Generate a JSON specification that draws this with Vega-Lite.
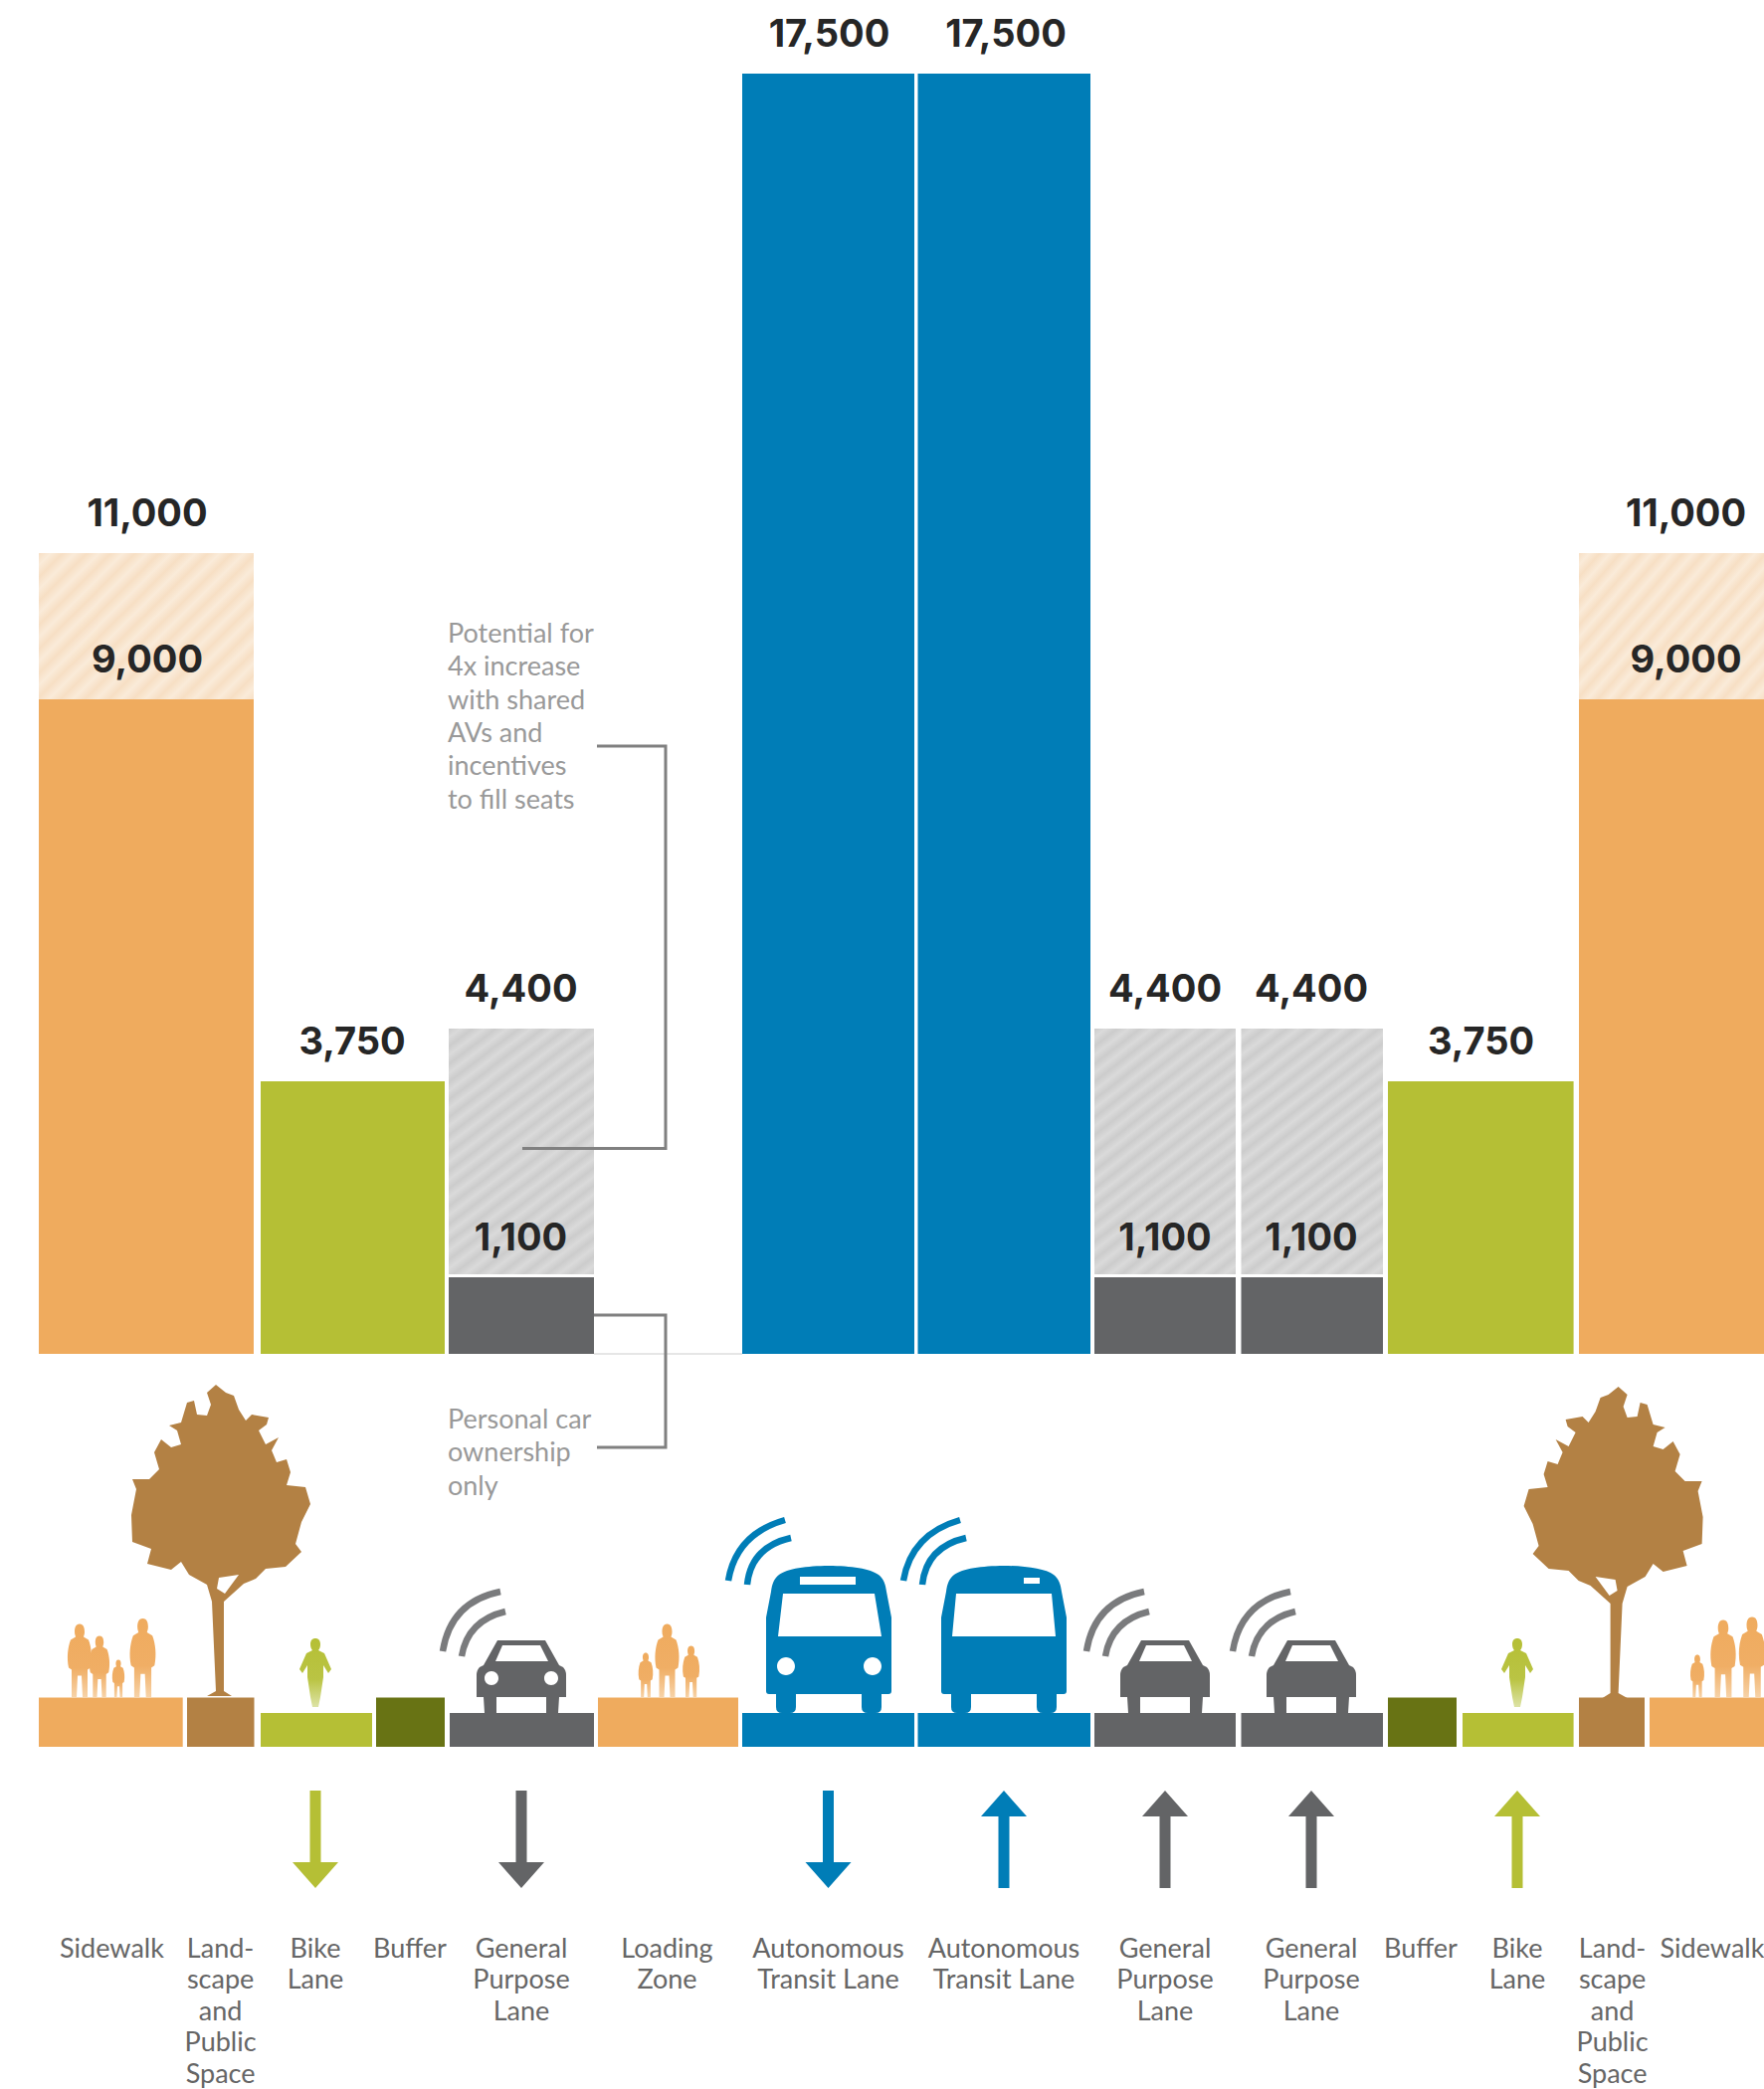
{
"$schema":"https://vega.github.io/schema/vega-lite/v6.json",
"width":1773,"height":2100,"autosize":{"type":"none"},"padding":0,"background":"white",
"config":{"view":{"stroke":null}},
"resolve":{"scale":{"y":"independent","shape":"independent","color":"independent"}},
"layer":[
{"data":{"values":[{"x0":59.7,"x1":74.6,"e":36.1}]},
 "mark":{"type":"rule","color":"#e6e6e6","strokeWidth":2},
 "encoding":{"x":{"field":"x0","type":"quantitative","axis":null,"scale":{"domain":[0,177.3],"nice":false,"zero":false}},"x2":{"field":"x1"},
 "y":{"field":"e","type":"quantitative","axis":null,"scale":{"domain":[172.2,-37.8],"range":[0,2100],"nice":false,"zero":false}}}},
{"data":{"values":[
 {"lane":"Sidewalk","kind":"sidewalk","x0":3.9,"x1":25.5,"cap":9000},
 {"lane":"Bike Lane","kind":"bike","x0":26.2,"x1":44.7,"cap":3750},
 {"lane":"General Purpose Lane","kind":"general","x0":45.1,"x1":59.7,"cap":1100},
 {"lane":"Autonomous Transit Lane","kind":"transit","x0":74.6,"x1":91.9,"cap":17500},
 {"lane":"Autonomous Transit Lane","kind":"transit","x0":92.25,"x1":109.6,"cap":17500},
 {"lane":"General Purpose Lane","kind":"general","x0":110,"x1":124.2,"cap":1100},
 {"lane":"General Purpose Lane","kind":"general","x0":124.75,"x1":139,"cap":1100},
 {"lane":"Bike Lane","kind":"bike","x0":139.5,"x1":158.16,"cap":3750},
 {"lane":"Sidewalk","kind":"sidewalk","x0":158.7,"x1":177.3,"cap":9000}
 ]},
 "mark":{"type":"rect"},
 "encoding":{"x":{"field":"x0","type":"quantitative","axis":null,"scale":{"domain":[0,177.3],"nice":false,"zero":false}},"x2":{"field":"x1"},
 "y":{"field":"cap","type":"quantitative","axis":null,"scale":{"domain":[0,1100,3750,4400,9000,11000,17500],"range":[1361,1284,1087,1034,703,556,74],"nice":false,"zero":false}},
 "y2":{"datum":0},
 "color":{"field":"kind","type":"nominal","legend":null,"scale":{"domain":["sidewalk","landscape","bike","buffer","general","transit"],"range":["#EFAB5E","#B38144","#B5BF35","#687314","#636466","#007DB7"]}}}},
{"data":{"values":[
 {"x0":45.1,"x1":59.7,"base":1100,"cap":4400},
 {"x0":110,"x1":124.2,"base":1100,"cap":4400},
 {"x0":124.75,"x1":139,"base":1100,"cap":4400}
 ]},
 "mark":{"type":"rect","fill":{"gradient":"linear","x1":0,"y1":0,"x2":0.5385,"y2":1.206,"stops":[
 {"offset":0,"color":"#cccccc"},{"offset":0.025,"color":"#dadada"},{"offset":0.05,"color":"#cccccc"},{"offset":0.075,"color":"#dadada"},{"offset":0.1,"color":"#cccccc"},{"offset":0.125,"color":"#dadada"},{"offset":0.15,"color":"#cccccc"},{"offset":0.175,"color":"#dadada"},{"offset":0.2,"color":"#cccccc"},{"offset":0.225,"color":"#dadada"},{"offset":0.25,"color":"#cccccc"},{"offset":0.275,"color":"#dadada"},{"offset":0.3,"color":"#cccccc"},{"offset":0.325,"color":"#dadada"},{"offset":0.35,"color":"#cccccc"},{"offset":0.375,"color":"#dadada"},{"offset":0.4,"color":"#cccccc"},{"offset":0.425,"color":"#dadada"},{"offset":0.45,"color":"#cccccc"},{"offset":0.475,"color":"#dadada"},{"offset":0.5,"color":"#cccccc"},{"offset":0.525,"color":"#dadada"},{"offset":0.55,"color":"#cccccc"},{"offset":0.575,"color":"#dadada"},{"offset":0.6,"color":"#cccccc"},{"offset":0.625,"color":"#dadada"},{"offset":0.65,"color":"#cccccc"},{"offset":0.675,"color":"#dadada"},{"offset":0.7,"color":"#cccccc"},{"offset":0.725,"color":"#dadada"},{"offset":0.75,"color":"#cccccc"},{"offset":0.775,"color":"#dadada"},{"offset":0.8,"color":"#cccccc"},{"offset":0.825,"color":"#dadada"},{"offset":0.85,"color":"#cccccc"},{"offset":0.875,"color":"#dadada"},{"offset":0.9,"color":"#cccccc"},{"offset":0.925,"color":"#dadada"},{"offset":0.95,"color":"#cccccc"},{"offset":0.975,"color":"#dadada"},{"offset":1,"color":"#cccccc"}]}},
 "encoding":{"x":{"field":"x0","type":"quantitative","axis":null,"scale":{"domain":[0,177.3],"nice":false,"zero":false}},"x2":{"field":"x1"},
 "y":{"field":"cap","type":"quantitative","axis":null,"scale":{"domain":[0,1100,3750,4400,9000,11000,17500],"range":[1361,1281,1087,1034,703,556,74],"nice":false,"zero":false}},
 "y2":{"field":"base"}}},
{"data":{"values":[
 {"x0":3.9,"x1":25.5,"base":9000,"cap":11000},
 {"x0":158.7,"x1":177.3,"base":9000,"cap":11000}
 ]},
 "mark":{"type":"rect","fill":{"gradient":"linear","x1":0,"y1":0,"x2":1.147,"y2":0.786,"stops":[
 {"offset":0,"color":"#f7dfc4"},{"offset":0.0333,"color":"#faebd9"},{"offset":0.0667,"color":"#f7dfc4"},{"offset":0.1,"color":"#faebd9"},{"offset":0.1333,"color":"#f7dfc4"},{"offset":0.1667,"color":"#faebd9"},{"offset":0.2,"color":"#f7dfc4"},{"offset":0.2333,"color":"#faebd9"},{"offset":0.2667,"color":"#f7dfc4"},{"offset":0.3,"color":"#faebd9"},{"offset":0.3333,"color":"#f7dfc4"},{"offset":0.3667,"color":"#faebd9"},{"offset":0.4,"color":"#f7dfc4"},{"offset":0.4333,"color":"#faebd9"},{"offset":0.4667,"color":"#f7dfc4"},{"offset":0.5,"color":"#faebd9"},{"offset":0.5333,"color":"#f7dfc4"},{"offset":0.5667,"color":"#faebd9"},{"offset":0.6,"color":"#f7dfc4"},{"offset":0.6333,"color":"#faebd9"},{"offset":0.6667,"color":"#f7dfc4"},{"offset":0.7,"color":"#faebd9"},{"offset":0.7333,"color":"#f7dfc4"},{"offset":0.7667,"color":"#faebd9"},{"offset":0.8,"color":"#f7dfc4"},{"offset":0.8333,"color":"#faebd9"},{"offset":0.8667,"color":"#f7dfc4"},{"offset":0.9,"color":"#faebd9"},{"offset":0.9333,"color":"#f7dfc4"},{"offset":0.9667,"color":"#faebd9"},{"offset":1,"color":"#f7dfc4"}]}},
 "encoding":{"x":{"field":"x0","type":"quantitative","axis":null,"scale":{"domain":[0,177.3],"nice":false,"zero":false}},"x2":{"field":"x1"},
 "y":{"field":"cap","type":"quantitative","axis":null,"scale":{"domain":[0,1100,3750,4400,9000,11000,17500],"range":[1361,1284,1087,1034,703,556,74],"nice":false,"zero":false}},
 "y2":{"field":"base"}}},
{"data":{"values":[
 {"leader":"a","step":1,"x":60,"e":97.2},{"leader":"a","step":2,"x":66.9,"e":97.2},{"leader":"a","step":3,"x":66.9,"e":56.75},{"leader":"a","step":4,"x":52.5,"e":56.75},
 {"leader":"b","step":1,"x":59.7,"e":40},{"leader":"b","step":2,"x":66.9,"e":40},{"leader":"b","step":3,"x":66.9,"e":26.7},{"leader":"b","step":4,"x":60,"e":26.7}
 ]},
 "mark":{"type":"line","color":"#808080","strokeWidth":3},
 "encoding":{"x":{"field":"x","type":"quantitative","axis":null,"scale":{"domain":[0,177.3],"nice":false,"zero":false}},
 "y":{"field":"e","type":"quantitative","axis":null,"scale":{"domain":[172.2,-37.8],"range":[0,2100],"nice":false,"zero":false}},
 "detail":{"field":"leader"},"order":{"field":"step","type":"quantitative"}}},
{"data":{"values":[
 {"x":14.8,"v":11000},{"x":14.8,"v":9000},{"x":35.4,"v":3750},{"x":52.35,"v":4400},{"x":52.35,"v":1100},
 {"x":83.35,"v":17500},{"x":101.1,"v":17500},{"x":117.1,"v":4400},{"x":117.1,"v":1100},{"x":131.8,"v":4400},{"x":131.8,"v":1100},
 {"x":148.85,"v":3750},{"x":169.45,"v":11000},{"x":169.45,"v":9000}
 ]},
 "mark":{"type":"text","font":"Inter","fontWeight":"bold","fontSize":38,"color":"#262626","baseline":"middle","align":"center","dy":-38},
 "encoding":{"x":{"field":"x","type":"quantitative","axis":null,"scale":{"domain":[0,177.3],"nice":false,"zero":false}},
 "y":{"field":"v","type":"quantitative","axis":null,"scale":{"domain":[0,1100,3750,4400,9000,11000,17500],"range":[1361,1284,1087,1034,703,556,74],"nice":false,"zero":false}},
 "text":{"field":"v","type":"quantitative","format":",d"}}},
{"data":{"values":[
 {"kind":"sidewalk","x0":3.9,"x1":18.37,"top":1.55},{"kind":"landscape","x0":18.8,"x1":25.55,"top":1.55},{"kind":"bike","x0":26.2,"x1":37.4,"top":0},{"kind":"buffer","x0":37.8,"x1":44.7,"top":1.55},
 {"kind":"general","x0":45.2,"x1":59.7,"top":0},{"kind":"sidewalk","x0":60.1,"x1":74.2,"top":1.55},{"kind":"transit","x0":74.6,"x1":91.9,"top":0},{"kind":"transit","x0":92.25,"x1":109.6,"top":0},
 {"kind":"general","x0":110,"x1":124.2,"top":0},{"kind":"general","x0":124.75,"x1":139,"top":0},{"kind":"buffer","x0":139.5,"x1":146.4,"top":1.55},{"kind":"bike","x0":147,"x1":158.16,"top":0},
 {"kind":"landscape","x0":158.7,"x1":165.3,"top":1.55},{"kind":"sidewalk","x0":165.8,"x1":177.3,"top":1.55}
 ]},
 "mark":{"type":"rect"},
 "encoding":{"x":{"field":"x0","type":"quantitative","axis":null,"scale":{"domain":[0,177.3],"nice":false,"zero":false}},"x2":{"field":"x1"},
 "y":{"field":"top","type":"quantitative","axis":null,"scale":{"domain":[172.2,-37.8],"range":[0,2100],"nice":false,"zero":false}},
 "y2":{"datum":-3.4},
 "color":{"field":"kind","type":"nominal","legend":null,"scale":{"domain":["sidewalk","landscape","bike","buffer","general","transit"],"range":["#EFAB5E","#B38144","#B5BF35","#687314","#636466","#007DB7"]}}}},
{"data":{"values":[
 {"icon":"tree_left","kind":"landscape","x":22.1,"e":1.7},{"icon":"tree_right","kind":"landscape","x":162.26,"e":1.5},
 {"icon":"bus_front","kind":"transit","x":83.3,"e":0},{"icon":"bus_rear","kind":"transit","x":100.9,"e":0},
 {"icon":"car_front","kind":"general","x":52.4,"e":0},{"icon":"car_rear","kind":"general","x":117.1,"e":0},{"icon":"car_rear","kind":"general","x":131.8,"e":0}
 ]},
 "mark":{"type":"point","filled":true,"opacity":1,"size":4},
 "encoding":{"x":{"field":"x","type":"quantitative","axis":null,"scale":{"domain":[0,177.3],"nice":false,"zero":false}},
 "y":{"field":"e","type":"quantitative","axis":null,"scale":{"domain":[172.2,-37.8],"range":[0,2100],"nice":false,"zero":false}},
 "color":{"field":"kind","type":"nominal","legend":null,"scale":{"domain":["sidewalk","landscape","bike","buffer","general","transit"],"range":["#EFAB5E","#B38144","#B5BF35","#687314","#636466","#007DB7"]}},
 "shape":{"field":"icon","type":"nominal","legend":null,"scale":{"domain":["tree_left","tree_right","bus_front","bus_rear","car_front","car_rear"],"range":[
 "M-4 -313 L6 -305 L14 -302 L19 -288 L26 -277 L32 -283 L49 -280 L47 -273 L39 -267 L46 -253 L59 -260 L52 -247 L57 -235 L67 -238 L71 -225 L67 -212 L86 -210 L91 -193 L82 -175 L76 -153 L82 -145 L66 -130 L46 -128 L36 -118 L24 -113 L4 -95 L4 -5 L12 0 L-13 0 L-4 -5 L-8 -95 L-13 -112 L-31 -122 L-39 -135 L-49 -127 L-73 -133 L-69 -148 L-88 -155 L-89 -182 L-84 -208 L-88 -218 L-71 -218 L-61 -228 L-66 -245 L-59 -258 L-49 -250 L-39 -253 L-43 -267 L-51 -272 L-39 -275 L-33 -295 L-26 -297 L-23 -283 L-13 -282 L-9 -293 L-13 -305 Z M-3 -108 L5 -103 L19 -122 L-1 -119 Z",
 "M4 -313 L-6 -305 L-14 -302 L-19 -288 L-26 -277 L-32 -283 L-49 -280 L-47 -273 L-39 -267 L-46 -253 L-59 -260 L-52 -247 L-57 -235 L-67 -238 L-71 -225 L-67 -212 L-86 -210 L-91 -193 L-82 -175 L-76 -153 L-82 -145 L-66 -130 L-46 -128 L-36 -118 L-24 -113 L-4 -95 L-4 -5 L-12 0 L13 0 L4 -5 L8 -95 L13 -112 L31 -122 L39 -135 L49 -127 L73 -133 L69 -148 L88 -155 L89 -182 L84 -208 L88 -218 L71 -218 L61 -228 L66 -245 L59 -258 L49 -250 L39 -253 L43 -267 L51 -272 L39 -275 L33 -295 L26 -297 L23 -283 L13 -282 L9 -293 L13 -305 Z M3 -108 L-5 -103 L-19 -122 L1 -119 Z",
 "M0 -148 C-22 -148 -42 -145 -50 -139 C-55 -135 -57 -130 -58 -122 L-63 -96 L-63 -22 Q-63 -19 -60 -19 L-53 -19 L-53 -6 Q-53 0 -47 0 L-39 0 Q-33 0 -33 -6 L-33 -19 L33 -19 L33 -6 Q33 0 39 0 L47 0 Q53 0 53 -6 L53 -19 L60 -19 Q63 -19 63 -22 L63 -96 L58 -122 C57 -130 55 -135 50 -139 C42 -145 22 -148 0 -148 Z M-46 -120 L46 -120 L53 -77 L-51 -77 Z M-29 -137 L27 -137 L27 -129 L-29 -129 Z M-52 -47 C-52 -52 -48 -56 -43 -56 C-38 -56 -34 -52 -34 -47 C-34 -42 -38 -38 -43 -38 C-48 -38 -52 -42 -52 -47 Z M35 -47 C35 -52 39 -56 44 -56 C49 -56 53 -52 53 -47 C53 -42 49 -38 44 -38 C39 -38 35 -42 35 -47 Z",
 "M0 -148 C-22 -148 -42 -145 -50 -139 C-55 -135 -57 -130 -58 -122 L-63 -96 L-63 -22 Q-63 -19 -60 -19 L-53 -19 L-53 -6 Q-53 0 -47 0 L-39 0 Q-33 0 -33 -6 L-33 -19 L33 -19 L33 -6 Q33 0 39 0 L47 0 Q53 0 53 -6 L53 -19 L60 -19 Q63 -19 63 -22 L63 -96 L58 -122 C57 -130 55 -135 50 -139 C42 -145 22 -148 0 -148 Z M-48 -120 L48 -120 L52 -77 L-52 -77 Z M20 -136 L36 -136 L36 -130 L20 -130 Z",
 "M-24 -73 L-38 -48 L-42 -46 Q-45 -43 -45 -38 L-45 -16 L-38 -16 L-37 0 L-25 0 L-25 -16 L25 -16 L25 0 L37 0 L38 -16 L45 -16 L45 -38 Q45 -43 42 -46 L38 -48 L24 -73 Z M-19 -68 L19 -68 L27 -52 L-26 -52 Z M-37 -35 C-37 -39 -34 -42 -30 -42 C-26 -42 -23 -39 -23 -35 C-23 -31 -26 -28 -30 -28 C-34 -28 -37 -31 -37 -35 Z M23 -35 C23 -39 26 -42 30 -42 C34 -42 37 -39 37 -35 C37 -31 34 -28 30 -28 C26 -28 23 -31 23 -35 Z",
 "M-24 -73 L-38 -48 L-42 -46 Q-45 -43 -45 -38 L-45 -16 L-38 -16 L-37 0 L-25 0 L-25 -16 L25 -16 L25 0 L37 0 L38 -16 L45 -16 L45 -38 Q45 -43 42 -46 L38 -48 L24 -73 Z M-19 -68 L19 -68 L27 -52 L-26 -52 Z"
 ]}}}},
{"data":{"values":[
 {"vehicle":"bus","kind":"transit","x":83.3,"e":0},{"vehicle":"bus","kind":"transit","x":100.9,"e":0},
 {"vehicle":"car","kind":"general","x":52.4,"e":0},{"vehicle":"car","kind":"general","x":117.1,"e":0},{"vehicle":"car","kind":"general","x":131.8,"e":0}
 ]},
 "mark":{"type":"point","filled":false,"opacity":1,"size":4,"strokeWidth":6.5,"fill":null},
 "encoding":{"x":{"field":"x","type":"quantitative","axis":null,"scale":{"domain":[0,177.3],"nice":false,"zero":false}},
 "y":{"field":"e","type":"quantitative","axis":null,"scale":{"domain":[172.2,-37.8],"range":[0,2100],"nice":false,"zero":false}},
 "color":{"field":"kind","type":"nominal","legend":null,"scale":{"domain":["general","transit"],"range":["#7a7b7d","#007DB7"]}},
 "shape":{"field":"vehicle","type":"nominal","legend":null,"scale":{"domain":["bus","car"],"range":[
 "M-101 -133 Q-93 -180 -44 -194 M-82 -129 Q-78 -167 -38 -176",
 "M-79 -62 Q-71 -112 -21 -122 M-60 -57 Q-54 -93 -16 -102"
 ]}}}},
{"data":{"values":[
 {"x":8.0,"h":7.4},{"x":10.0,"h":6.2},{"x":11.9,"h":3.8},{"x":14.35,"h":7.95},{"x":64.9,"h":4.5},{"x":67.05,"h":7.4},{"x":69.46,"h":5.2},{"x":170.6,"h":4.3},{"x":173.2,"h":7.8},{"x":176.1,"h":8.1}
 ]},
 "mark":{"type":"point","filled":true,"opacity":1,"shape":"M0 -74 C4 -74 5 -70 5 -66 C5 -63 4 -62 4 -61 L9 -58 C12 -50 13 -40 11 -30 L8 -28 L8 0 L3 0 L2 -22 L-2 -22 L-3 0 L-8 0 L-8 -28 L-11 -30 C-13 -40 -12 -50 -9 -58 L-4 -61 C-4 -62 -5 -63 -5 -66 C-5 -70 -4 -74 0 -74 Z",
 "fill":{"gradient":"linear","x1":0,"y1":0,"x2":0,"y2":1,"stops":[{"offset":0,"color":"#EFAB5E"},{"offset":0.6,"color":"#F0AE65"},{"offset":1,"color":"#F7D3A8"}]}},
 "encoding":{"x":{"field":"x","type":"quantitative","axis":null,"scale":{"domain":[0,177.3],"nice":false,"zero":false}},
 "y":{"datum":1.55,"type":"quantitative","axis":null,"scale":{"domain":[172.2,-37.8],"range":[0,2100],"nice":false,"zero":false}},
 "size":{"field":"h","type":"quantitative","legend":null,"scale":{"type":"pow","exponent":2,"domain":[0,7.4],"range":[0,4]}}}},
{"data":{"values":[{"x":31.7},{"x":152.5}]},
 "mark":{"type":"point","filled":true,"opacity":1,"size":4,"shape":"M0 -69 C3 -69 5 -67 5 -63 C5 -60 4 -58 3 -57 L9 -54 L16 -38 L13 -34 L8 -42 L8 -30 L5 -10 L3 0 L-3 0 L-5 -10 L-8 -30 L-8 -42 L-13 -34 L-16 -38 L-9 -54 L-3 -57 C-4 -58 -5 -60 -5 -63 C-5 -67 -3 -69 0 -69 Z",
 "fill":{"gradient":"linear","x1":0,"y1":0,"x2":0,"y2":1,"stops":[{"offset":0,"color":"#B5BF35"},{"offset":0.6,"color":"#BAC444"},{"offset":1,"color":"#DDE3A6"}]}},
 "encoding":{"x":{"field":"x","type":"quantitative","axis":null,"scale":{"domain":[0,177.3],"nice":false,"zero":false}},
 "y":{"datum":0.6,"type":"quantitative","axis":null,"scale":{"domain":[172.2,-37.8],"range":[0,2100],"nice":false,"zero":false}}}},
{"data":{"values":[
 {"kind":"bike","dir":"down","x":31.7},{"kind":"general","dir":"down","x":52.4},{"kind":"transit","dir":"down","x":83.25},{"kind":"transit","dir":"up","x":100.9},
 {"kind":"general","dir":"up","x":117.1},{"kind":"general","dir":"up","x":131.8},{"kind":"bike","dir":"up","x":152.5}
 ]},
 "mark":{"type":"point","filled":true,"opacity":1,"size":4},
 "encoding":{"x":{"field":"x","type":"quantitative","axis":null,"scale":{"domain":[0,177.3],"nice":false,"zero":false}},
 "y":{"datum":-12.7,"type":"quantitative","axis":null,"scale":{"domain":[172.2,-37.8],"range":[0,2100],"nice":false,"zero":false}},
 "color":{"field":"kind","type":"nominal","legend":null,"scale":{"domain":["bike","general","transit"],"range":["#B5BF35","#636466","#007DB7"]}},
 "shape":{"field":"dir","type":"nominal","legend":null,"scale":{"domain":["down","up"],"range":[
 "M-5.5 -49 L5.5 -49 L5.5 23 L23 23 L0 49 L-23 23 L-5.5 23 Z",
 "M-5.5 49 L5.5 49 L5.5 -23 L23 -23 L0 -49 L-23 -23 L-5.5 -23 Z"
 ]}}}},
{"data":{"values":[
 {"x":11.25,"t":"Sidewalk"},{"x":22.16,"t":"Land-|scape|and|Public|Space"},{"x":31.7,"t":"Bike|Lane"},{"x":41.2,"t":"Buffer"},{"x":52.4,"t":"General|Purpose|Lane"},{"x":67.05,"t":"Loading|Zone"},{"x":83.25,"t":"Autonomous|Transit Lane"},
 {"x":100.9,"t":"Autonomous|Transit Lane"},{"x":117.1,"t":"General|Purpose|Lane"},{"x":131.8,"t":"General|Purpose|Lane"},{"x":142.8,"t":"Buffer"},{"x":152.5,"t":"Bike|Lane"},{"x":162.06,"t":"Land-|scape|and|Public|Space"},{"x":172.1,"t":"Sidewalk"}
 ]},
 "mark":{"type":"text","font":"Lato","fontSize":27,"color":"#666666","align":"center","baseline":"top","lineBreak":"|","lineHeight":31.5},
 "encoding":{"x":{"field":"x","type":"quantitative","axis":null,"scale":{"domain":[0,177.3],"nice":false,"zero":false}},
 "y":{"datum":-22.47,"type":"quantitative","axis":null,"scale":{"domain":[172.2,-37.8],"range":[0,2100],"nice":false,"zero":false}},
 "text":{"field":"t"}}},
{"data":{"values":[
 {"x":45,"e":109.7,"t":"Potential for|4x increase|with shared|AVs and|incentives|to fill seats"},
 {"x":45,"e":30.7,"t":"Personal car|ownership|only"}
 ]},
 "mark":{"type":"text","font":"Lato","fontSize":27,"color":"#999999","align":"left","baseline":"top","lineBreak":"|","lineHeight":33.3},
 "encoding":{"x":{"field":"x","type":"quantitative","axis":null,"scale":{"domain":[0,177.3],"nice":false,"zero":false}},
 "y":{"field":"e","type":"quantitative","axis":null,"scale":{"domain":[172.2,-37.8],"range":[0,2100],"nice":false,"zero":false}},
 "text":{"field":"t"}}}
]}
